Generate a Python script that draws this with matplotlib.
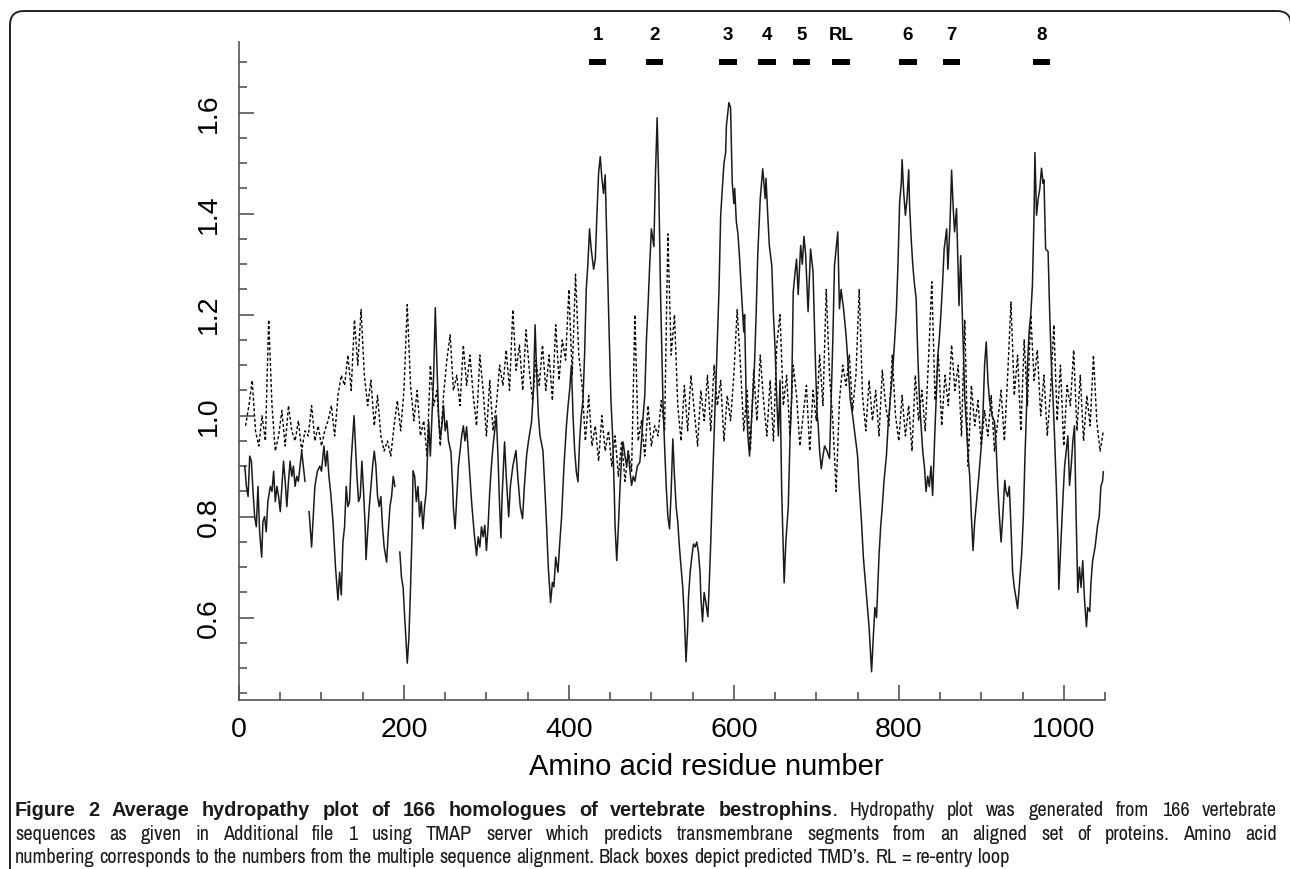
import numpy as np
import matplotlib
matplotlib.use("Agg")
import matplotlib.pyplot as plt
from matplotlib import font_manager
from matplotlib.patches import FancyBboxPatch
from matplotlib.transforms import IdentityTransform

nan = np.nan

# solid trace: average hydropathy (residue, value), nan = gap
solid_x = [7, 9, 11, 13, 15, 17, 19, 21, 23, 25, 27.5, 29, 31, 33, 35, 38, 40, 42, 44, 46, 48, 50, 52, 54, 56, 58,
           60, 62, 64, 66, 68, 70, 72, 74, 76, 78, 80, 82,
           85, 88, 90, 92, 95, 98, 100, 103, 105, 107, 109, 111, 114, 117, 120, 122, 124, 126, 128, 130, 132, 134,
           136, 138, 139.5, 141, 143, 145, 147, 149, 151, 153, 154, 156, 158, 160, 162, 164, 166, 168, 170, 172,
           174, 176, 179, 181, 183, 185, 187, 189, 192,
           195, 197, 199, 201, 202, 204, 206, 208, 210, 211, 213, 215, 217, 219, 221, 223, 225, 227, 230, 232,
           234, 236, 238, 240, 242, 244, 246, 248, 250, 252, 254, 257, 259, 260, 262, 264, 266, 268, 270, 272,
           274, 276, 278, 280, 282, 285, 288, 290, 292, 294, 296, 298, 300, 302, 304, 306, 308, 310, 312, 314,
           316, 317.6, 319, 322, 324, 327, 329, 332, 335.8, 338, 341, 343.8, 346, 348.7, 351, 354.7, 357, 359,
           361, 363, 365, 368.5, 371, 373, 375, 377.8, 380, 381.8, 384, 386.7, 389, 391, 394, 397, 399, 401,
           403, 405, 407, 409, 411, 413, 415, 417, 419, 421, 423, 425, 427, 430, 432, 434, 436, 438, 440, 442,
           444, 446, 447, 449, 451, 453, 455, 456, 458, 460, 462, 464, 465.7, 468, 470, 472, 474, 476, 478, 480,
           483, 486, 488, 490, 492, 494, 496, 498, 500, 503, 505, 507, 509, 511, 514, 516, 518, 520, 522, 524,
           526, 528, 530, 532, 534, 536, 538, 540, 542, 544, 545, 547, 549, 551, 553, 555, 557, 559, 560, 562,
           564, 566, 568.5, 570, 572, 574, 577, 579, 582, 584, 586, 588, 590, 591, 594, 596, 598, 600, 601, 603,
           605, 607, 609, 612, 613, 615, 617, 619, 621, 623, 625, 627, 629, 632, 635, 638, 639, 641, 643, 646,
           648, 650, 652, 654, 656, 658, 661, 663, 666, 668, 670, 672, 674, 676, 678, 681, 683, 685, 687, 690,
           693, 696, 699, 701, 702, 704, 706, 708, 710, 713, 716, 718, 720, 722, 724, 726, 728, 730, 733, 736,
           738, 741, 744, 747, 750, 752, 755, 757, 760, 762, 764, 765, 767, 769, 771, 773, 776, 778, 780, 782,
           785, 787, 789, 791, 793, 795, 797, 799, 801, 803, 804, 806, 808, 810, 812, 813, 815, 817, 819, 821,
           823, 825, 827, 829, 831, 833, 835, 837, 839, 841, 844, 846, 847, 849, 851, 853, 855, 858, 859.5, 862,
           864, 866, 867.6, 870, 873, 875, 877, 880, 882, 884, 886, 888, 890, 892, 894, 897, 900, 902, 904, 906,
           908, 910, 913, 916, 918, 920, 922, 924, 926, 928.5, 930, 932, 934, 936, 938, 940, 942, 944, 946, 949,
           951, 953, 955, 956, 958, 960, 962, 964, 965, 967, 969, 971, 973, 975, 976, 978, 981, 983, 985, 987,
           989, 991, 993, 994, 996, 999, 1001, 1003, 1005, 1007, 1009, 1011, 1013, 1015, 1017, 1019, 1021, 1023,
           1025, 1027.5, 1029, 1031.5, 1033, 1035, 1038, 1041, 1043, 1045, 1047, 1048]
solid_y = [0.90, 0.86, 0.84, 0.92, 0.91, 0.85, 0.80, 0.78, 0.86, 0.77, 0.72, 0.79, 0.80, 0.77, 0.83, 0.86, 0.85,
           0.89, 0.83, 0.86, 0.84, 0.81, 0.86, 0.91, 0.87, 0.82,
           0.87, 0.91, 0.88, 0.90, 0.86, 0.88, 0.87, 0.90, 0.93, 0.90, 0.87, nan,
           0.81, 0.74, 0.80, 0.86, 0.89, 0.90, 0.89, 0.94, 0.90, 0.93, 0.88, 0.85, 0.79, 0.70, 0.635, 0.69, 0.645,
           0.75, 0.78, 0.86, 0.82, 0.83,
           0.91, 0.96, 1.00, 0.95, 0.88, 0.83, 0.84, 0.91, 0.85, 0.78, 0.715, 0.77, 0.82, 0.86, 0.90, 0.93, 0.90,
           0.84, 0.82, 0.84,
           0.78, 0.74, 0.71, 0.77, 0.82, 0.84, 0.88, 0.86, nan,
           0.73, 0.68, 0.66, 0.597, 0.57, 0.51, 0.56, 0.66, 0.78, 0.891, 0.88, 0.83, 0.86, 0.80, 0.83, 0.776, 0.82,
           0.849, 0.988, 0.92,
           1.00, 1.08, 1.214, 1.10, 1.00, 0.954, 0.98, 1.02, 0.97, 0.99, 0.95, 0.928, 0.86, 0.816, 0.776, 0.84,
           0.90, 0.93, 0.96, 0.98,
           0.95, 0.978, 0.93, 0.88, 0.83, 0.77, 0.723, 0.76, 0.74, 0.78, 0.76, 0.783, 0.733, 0.78, 0.85, 0.90,
           0.94, 0.97, 1.00, 0.92,
           0.82, 0.758, 0.84, 0.948, 0.88, 0.80, 0.86, 0.90, 0.931, 0.88, 0.82, 0.796, 0.86, 0.921, 0.95, 0.988,
           1.05, 1.18,
           1.08, 1.00, 0.96, 0.931, 0.85, 0.78, 0.70, 0.63, 0.67, 0.661, 0.72, 0.69, 0.75, 0.796, 0.90, 0.98, 1.02,
           1.053,
           1.10, 1.00, 0.93, 0.889, 0.869, 0.95, 1.00, 1.03, 1.12, 1.25, 1.30, 1.37, 1.33, 1.29, 1.31, 1.40, 1.48,
           1.513, 1.47, 1.44,
           1.477, 1.35, 1.28, 1.15, 1.03, 0.96, 0.85, 0.78, 0.713, 0.78, 0.86, 0.92, 0.948, 0.92, 0.90, 0.93, 0.89,
           0.862, 0.88, 0.87,
           0.90, 0.908, 0.95, 1.00, 1.04, 1.15, 1.22, 1.30, 1.37, 1.335, 1.48, 1.59, 1.45, 1.25, 1.03, 0.94, 0.86,
           0.80, 0.776, 0.85,
           0.954, 0.88, 0.82, 0.79, 0.74, 0.70, 0.66, 0.60, 0.513, 0.58, 0.64, 0.69, 0.72, 0.746, 0.74, 0.75, 0.73,
           0.69, 0.64, 0.592,
           0.65, 0.63, 0.602, 0.66, 0.75, 0.86, 1.008, 1.10, 1.25, 1.396, 1.45, 1.50, 1.52, 1.575, 1.62, 1.61,
           1.463, 1.42, 1.45, 1.384,
           1.36, 1.31, 1.25, 1.166, 1.20, 1.03, 0.96, 0.92, 0.98, 1.04, 1.10, 1.20, 1.32, 1.43, 1.489, 1.43, 1.47,
           1.40, 1.337, 1.297,
           1.20, 1.133, 1.034, 0.96, 1.07, 0.85, 0.669, 0.75, 0.82, 0.95, 1.034, 1.245, 1.28, 1.31, 1.24, 1.337,
           1.30, 1.355, 1.32, 1.206,
           1.33, 1.285, 1.10, 1.00, 0.988, 0.93, 0.895, 0.92, 0.94, 0.93, 0.915, 1.034, 1.15, 1.297, 1.33, 1.364,
           1.212, 1.25, 1.212, 1.16,
           1.113, 1.034, 1.00, 0.96, 0.921, 0.86, 0.783, 0.72, 0.66, 0.62, 0.58, 0.55, 0.493, 0.56, 0.62, 0.60,
           0.723, 0.78, 0.82, 0.87,
           0.921, 0.98, 1.02, 1.06, 1.10, 1.15, 1.206, 1.30, 1.423, 1.46, 1.507, 1.44, 1.397, 1.43, 1.487, 1.42,
           1.35, 1.297, 1.26, 1.232,
           1.12, 1.034, 0.98, 0.93, 0.90, 0.85, 0.88, 0.86, 0.90, 0.842, 0.98, 1.06, 1.113, 1.15, 1.20, 1.26, 1.33,
           1.37, 1.29, 1.377,
           1.486, 1.41, 1.364, 1.41, 1.218, 1.317, 1.20, 1.034, 0.98, 0.92, 0.88, 0.80, 0.733, 0.79, 0.826, 0.88,
           0.94, 1.00, 1.10, 1.146,
           1.07, 1.03, 1.00, 0.988, 0.94, 0.86, 0.80, 0.75, 0.80, 0.872, 0.85, 0.84, 0.86, 0.78, 0.69, 0.66, 0.64,
           0.618, 0.66, 0.727,
           0.80, 0.92, 1.02, 1.10, 1.166, 1.20, 1.258, 1.40, 1.521, 1.397, 1.43, 1.45, 1.49, 1.46, 1.467, 1.33,
           1.325, 1.20, 1.10, 1.034,
           0.95, 0.86, 0.75, 0.656, 0.73, 0.836, 0.90, 0.93, 0.96, 0.862, 0.90, 0.95, 0.98, 0.80, 0.65, 0.70, 0.66,
           0.713,
           0.64, 0.582, 0.62, 0.612, 0.67, 0.713, 0.74, 0.783, 0.80, 0.86, 0.87, 0.889]

# dotted trace, one value every 4 residues from residue 8
dotted_start, dotted_step = 8, 4
dotted_y = [0.98, 1.02, 1.07, 0.97, 0.94, 1.00, 0.95, 1.19, 1.02, 0.93,
            0.96, 1.01, 0.94, 1.02, 0.97, 0.95, 0.99, 0.93, 0.97, 0.96,
            1.02, 0.95, 0.98, 0.94, 0.97, 0.99, 1.02, 0.96, 1.04, 1.08,
            1.06, 1.12, 1.05, 1.19, 1.10, 1.21, 1.08, 1.02, 1.07, 0.98,
            1.04, 0.96, 0.93, 0.95, 0.92, 0.98, 1.03, 0.97, 1.05, 1.22,
            1.06, 0.99, 1.05, 0.96, 0.99, 0.92, 1.10, 1.02, 1.05, 0.94,
            1.04, 1.11, 1.16, 1.05, 1.08, 1.02, 1.14, 1.06, 1.12, 1.04,
            0.98, 1.12, 1.05, 0.96, 1.07, 0.97, 1.02, 1.10, 1.06, 1.13,
            1.05, 1.21, 1.09, 1.14, 1.05, 1.17, 1.09, 1.03, 1.11, 1.06,
            1.14, 1.05, 1.12, 1.03, 1.18, 1.07, 1.15, 1.11, 1.25, 1.08,
            1.28, 1.12, 1.06, 0.95, 1.04, 0.94, 0.98, 0.91, 1.00, 0.93,
            0.97, 0.90, 0.96, 0.88, 0.95, 0.87, 0.93, 0.89, 1.20, 0.95,
            0.99, 0.92, 1.02, 0.94, 0.98, 0.96, 1.03, 0.97, 1.36, 1.12,
            1.20, 1.02, 0.95, 1.06, 0.97, 1.08, 1.01, 0.94, 1.05, 0.99,
            1.08, 0.97, 1.10, 1.02, 1.07, 0.95, 1.04, 0.99, 1.08, 1.21,
            1.10, 0.97, 1.05, 0.93, 1.09, 0.99, 1.12, 1.03, 0.96, 1.07,
            0.95, 1.14, 1.20, 1.02, 1.08, 0.96, 1.10, 1.04, 0.94, 1.00,
            1.06, 0.93, 1.05, 0.99, 1.12, 1.02, 1.25, 1.08, 0.99, 0.85,
            1.03, 1.10, 1.06, 1.12, 1.01, 1.08, 1.25, 1.04, 0.97, 1.07,
            0.99, 1.05, 0.96, 1.09, 1.02, 0.98, 1.12, 1.00, 0.95, 1.04,
            0.96, 1.02, 0.93, 1.08, 0.99, 1.05, 0.97, 1.11, 1.265, 1.03,
            1.12, 0.98, 1.08, 1.02, 1.14, 1.05, 1.10, 0.96, 1.19, 0.90,
            1.06, 0.98, 1.03, 0.94, 1.01, 0.96, 1.04, 0.93, 0.99, 1.05,
            0.95, 1.08, 1.225, 1.04, 1.12, 0.97, 1.15, 1.02, 1.20, 1.07,
            1.13, 1.00, 1.08, 0.96, 1.05, 1.18, 0.99, 1.10, 0.94, 1.06,
            1.02, 1.13, 0.97, 1.08, 0.95, 1.04, 0.98, 1.12, 0.99, 0.93,
            0.97]

# predicted TMDs (centre residue) and labels
tmd_centers = [435, 504, 593, 640, 682, 730, 811, 864, 973]
tmd_labels = ['1', '2', '3', '4', '5', 'RL', '6', '7', '8']

y_ticks = [0.6, 0.8, 1.0, 1.2, 1.4, 1.6]
x_ticks = [0, 200, 400, 600, 800, 1000]

caption_bold = "Figure 2 Average hydropathy plot of 166 homologues of vertebrate bestrophins"
caption_rest = [". Hydropathy plot was generated from 166 vertebrate",
                "sequences as given in Additional file 1 using TMAP server which predicts transmembrane segments from an aligned set of proteins. Amino acid",
                "numbering corresponds to the numbers from the multiple sequence alignment. Black boxes depict predicted TMD\u2019s. RL = re-entry loop"]

plt.rcParams['font.family'] = ['Liberation Sans', 'DejaVu Sans']

W, H = 1290, 869
fig = plt.figure(figsize=(W / 100, H / 100), dpi=100)
ax = fig.add_axes([239 / W, 1 - 700 / H, (1105 - 239) / W, (700 - 42) / H])

dotted_x = dotted_start + dotted_step * np.arange(len(dotted_y))
ax.plot(dotted_x, dotted_y, color='black', lw=1.0, linestyle=(0, (2.2, 1.6)))
ax.plot(solid_x, solid_y, color='#1a1a1a', lw=1.1)

ax.bar(tmd_centers, 0.012, width=21, bottom=1.695, color='black')
for c, lab in zip(tmd_centers, tmd_labels):
    ax.text(c, 1.752, lab, ha='center', va='center', fontsize=13.5, fontweight='bold', clip_on=False)

ax.set_xlim(0, 1050)
ax.set_ylim(0.437, 1.74)
for s in ['top', 'right']:
    ax.spines[s].set_visible(False)
for s in ['left', 'bottom']:
    ax.spines[s].set_color('#555555')
    ax.spines[s].set_linewidth(1.2)

ax.set_xticks(x_ticks)
ax.set_xticks(np.arange(0, 1051, 50), minor=True)
ax.set_yticks(y_ticks)
ax.set_yticks(np.arange(0.45, 1.71, 0.05), minor=True)
ax.set_yticklabels([f'{v:.1f}' for v in y_ticks], rotation=90, va='center')
ax.tick_params(which='both', direction='in', color='#555555', width=1.2, labelsize=20.5, pad=12)
ax.tick_params(which='major', length=11)
ax.tick_params(which='minor', length=6)

fig.text(706 / W, 1 - 775 / H, 'Amino acid residue number', ha='center', va='baseline', fontsize=21)

# rounded frame, its right edge sits at the picture edge
frame = FancyBboxPatch((10, -100), 1281, 858 + 100, boxstyle='round,pad=0,rounding_size=14',
                       transform=IdentityTransform(), fill=False, edgecolor='#222222', lw=1.4)
fig.patches.append(frame)

# caption fonts: a narrow face for the body, a real bold face for the title part
fonts = font_manager.fontManager.ttflist
reg_family = 'Liberation Sans'
bold_family = 'Liberation Sans'
for f in fonts:
    if 'Narrow' in f.name or 'Condensed' in f.name:
        reg_family = f.name
        if any(g.name == f.name and (g.weight == 'bold' or g.weight == 700) for g in fonts):
            bold_family = f.name
        break
renderer = fig.canvas.get_renderer()


def fam(weight):
    return bold_family if weight == 'bold' else reg_family


def width_of(s, weight, size):
    t = fig.text(0, 0, s, fontsize=size, fontweight=weight, family=fam(weight), transform=IdentityTransform())
    w = t.get_window_extent(renderer).width
    t.remove()
    return w


def tokens_of(text, weight):
    return [[(w, weight)] for w in text.split(' ') if w]


line1 = tokens_of(caption_bold, 'bold')
rest = caption_rest[0].split(' ')
line1[-1].append((rest[0], 'normal'))
line1 += [[(w, 'normal')] for w in rest[1:] if w]
lines = [line1, tokens_of(caption_rest[1], 'normal'), tokens_of(caption_rest[2], 'normal')]

x0, x1 = 15, 1277
# sizes chosen so the unjustified last line and the bold title end where they do in the figure
size = 14 * 995 / width_of(caption_rest[2], 'normal', 14)
size = min(max(size, 11), 17)
bsize = 14 * 750 / width_of(caption_bold, 'bold', 14)
bsize = min(max(bsize, 11), 17)
space = width_of('a a', 'normal', size) - width_of('aa', 'normal', size)

baselines = [816, 840, 863]
for i, toks in enumerate(lines):
    widths = [[width_of(p, wt, bsize if wt == 'bold' else size) for p, wt in tok] for tok in toks]
    total = sum(sum(w) for w in widths)
    gap = (x1 - x0 - total) / (len(toks) - 1) if i < 2 else space
    x = x0
    for tok, ws in zip(toks, widths):
        for (p, wt), w in zip(tok, ws):
            fig.text(x, H - baselines[i], p, fontsize=bsize if wt == 'bold' else size, fontweight=wt,
                     family=fam(wt), color='#1a1a1a', ha='left', va='baseline',
                     transform=IdentityTransform())
            x += w
        x += gap

fig.savefig('out.png', dpi=100)
